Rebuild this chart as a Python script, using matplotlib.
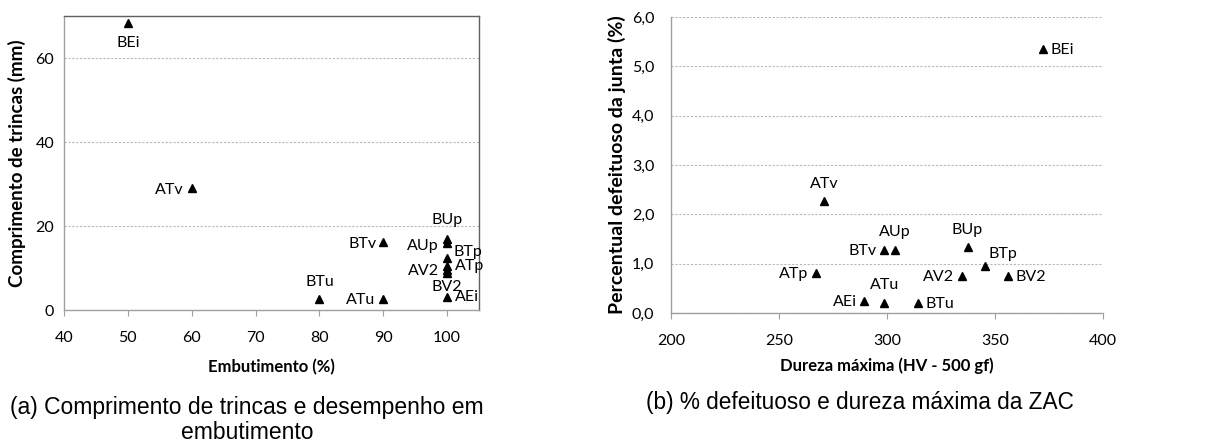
import matplotlib
matplotlib.use("Agg")
import matplotlib.pyplot as plt
from matplotlib.ticker import FixedLocator

# ---------------- data ----------------
names_a = ["BEi", "ATv", "BTv", "AUp", "BUp", "BTp", "ATp", "AV2", "BV2", "AEi", "BTu", "ATu"]
embutimento = [50, 60, 90, 100, 100, 100, 100, 100, 100, 100, 80, 90]
comprimento = [68.3, 29.0, 16.1, 16.0, 17.0, 12.3, 10.5, 9.6, 8.9, 3.2, 2.6, 2.6]

names_b = ["BEi", "ATv", "BTv", "AUp", "BUp", "BTp", "AV2", "BV2", "ATp", "AEi", "ATu", "BTu"]
dureza = [372.3, 270.9, 298.6, 303.5, 337.5, 345.6, 334.5, 356.0, 267.0, 289.2, 298.8, 314.3]
defeituoso = [5.36, 2.28, 1.28, 1.28, 1.34, 0.96, 0.76, 0.74, 0.82, 0.25, 0.21, 0.20]

xticks_a = [40, 50, 60, 70, 80, 90, 100]
yticks_a = [0, 20, 40, 60]
xticks_b = [200, 250, 300, 350, 400]
yticks_b = [0, 1, 2, 3, 4, 5, 6]
yticklabels_b = ["0,0", "1,0", "2,0", "3,0", "4,0", "5,0", "6,0"]

xlabel_a = "Embutimento (%)"
ylabel_a = "Comprimento de trincas (mm)"
xlabel_b = "Dureza máxima (HV - 500 gf)"
ylabel_b = "Percentual defeituoso da junta (%)"
caption_a = "(a) Comprimento de trincas e desempenho em\nembutimento"
caption_b = "(b) % defeituoso e dureza máxima da ZAC"

# label placement (offset in pixels, ha)
place_a = {
    "BEi": (0, -20, "center"), "ATv": (-8, -2, "right"), "BTv": (-7, -2, "right"),
    "AUp": (-8, -3, "right"), "BUp": (0, 19, "center"), "BTp": (6, 6, "left"),
    "ATp": (8, 0, "left"), "AV2": (-8, -1, "right"), "BV2": (0, -14, "center"),
    "AEi": (8, 0, "left"), "BTu": (0, 17, "center"), "ATu": (-8, -1, "right"),
}
place_b = {
    "BEi": (7, -1, "left"), "ATv": (0, 17, "center"), "BTv": (-7, -1, "right"),
    "AUp": (0, 18, "center"), "BUp": (-1, 17, "center"), "BTp": (3, 12, "left"),
    "AV2": (-7, -1, "right"), "BV2": (8, -1, "left"), "ATp": (-7, -1, "right"),
    "AEi": (-7, -1, "right"), "ATu": (0, 18, "center"), "BTu": (8, -1, "left"),
}

FONT = ["Lato", "DejaVu Sans"]
plt.rcParams["font.family"] = FONT

fig = plt.figure(figsize=(12.15, 4.43), dpi=100)
ax1 = fig.add_axes([64 / 1215, 1 - 310 / 443, 415 / 1215, 294 / 443])
ax2 = fig.add_axes([671 / 1215, 1 - 313 / 443, 432 / 1215, 296 / 443])

tick_fs = 11.5
pt_fs = 11.5
grid_col = "#b8b8b8"


def style(ax, full_box, ypad):
    ax.set_facecolor("white")
    for s in ["left", "bottom"]:
        ax.spines[s].set_color("#a0a0a0")
        ax.spines[s].set_linewidth(1.0)
    if full_box:
        for s in ["top", "right"]:
            ax.spines[s].set_color("#606060")
            ax.spines[s].set_linewidth(1.0)
    else:
        for s in ["top", "right"]:
            ax.spines[s].set_visible(False)
    ax.tick_params(axis="x", direction="out", length=4, color="#a0a0a0",
                   labelsize=tick_fs, pad=11)
    ax.tick_params(axis="y", length=0, labelsize=tick_fs, pad=ypad)
    ax.yaxis.grid(True, linestyle=(0, (2, 1.5)), color=grid_col, linewidth=0.8)
    ax.set_axisbelow(True)


# ---- left panel ----
style(ax1, True, 7)
ax1.plot(embutimento, comprimento, linestyle="none", marker="^", color="black",
         markersize=6, clip_on=False)
ax1.set_xlim(40, 105)
ax1.set_ylim(0, 70)
ax1.xaxis.set_major_locator(FixedLocator(xticks_a))
ax1.yaxis.set_major_locator(FixedLocator(yticks_a))
ax1.set_xlabel(xlabel_a, fontsize=12, fontweight="bold", labelpad=10)
ax1.set_ylabel(ylabel_a, fontsize=13.5, fontweight="bold", labelpad=7)
for n, x, y in zip(names_a, embutimento, comprimento):
    dx, dy, ha = place_a[n]
    ax1.annotate(n, (x, y), xytext=(dx, dy), textcoords="offset pixels",
                 ha=ha, va="center", fontsize=pt_fs)

# ---- right panel ----
style(ax2, False, 12)
ax2.plot(dureza, defeituoso, linestyle="none", marker="^", color="black",
         markersize=6)
ax2.set_xlim(200, 400)
ax2.set_ylim(0, 6)
ax2.xaxis.set_major_locator(FixedLocator(xticks_b))
ax2.set_yticks(yticks_b)
ax2.set_yticklabels(yticklabels_b)
ax2.set_xlabel(xlabel_b, fontsize=12, fontweight="bold", labelpad=7)
ax2.set_ylabel(ylabel_b, fontsize=14, fontweight="bold", labelpad=4)
for n, x, y in zip(names_b, dureza, defeituoso):
    dx, dy, ha = place_b[n]
    ax2.annotate(n, (x, y), xytext=(dx, dy), textcoords="offset pixels",
                 ha=ha, va="center", fontsize=pt_fs)

# ---- captions ----
cap_font = ["Liberation Sans", "DejaVu Sans"]
fig.text(247 / 1215, 1 - 396 / 443, caption_a, ha="center", va="top",
         fontsize=16.5, family=cap_font, linespacing=1.1)
fig.text(860 / 1215, 1 - 391 / 443, caption_b, ha="center", va="top",
         fontsize=16.3, family=cap_font)

fig.savefig("out.png", dpi=100, facecolor="white")
